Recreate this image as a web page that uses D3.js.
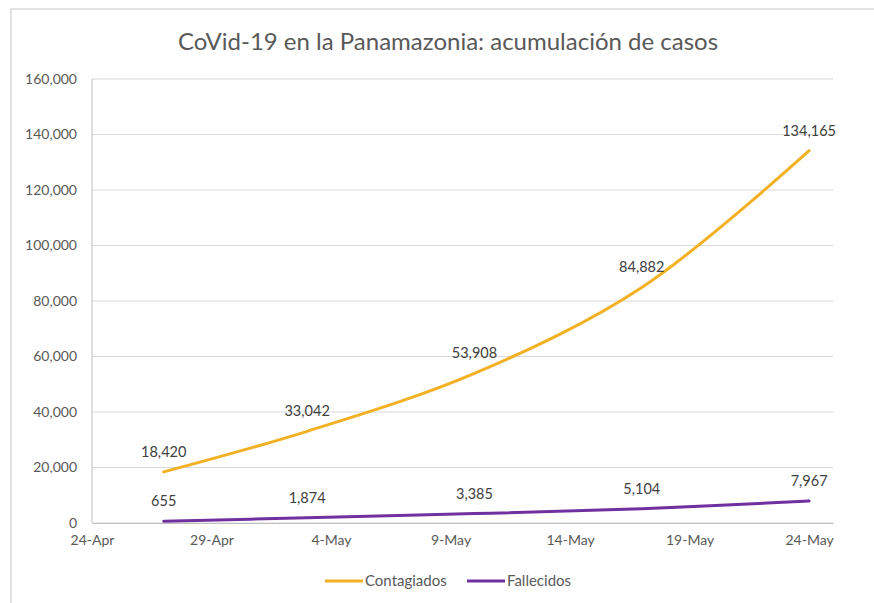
<!DOCTYPE html>
<html>
<head>
<meta charset="utf-8">
<script src="https://cdn.jsdelivr.net/npm/d3@7"></script>
<style>
  body { margin: 0; background: #fff; }
  text { font-family: Lato, "Open Sans", sans-serif; }
</style>
</head>
<body>
<div id="chart"></div>
<script>
// data
const dates = ["2020-04-27", "2020-05-03", "2020-05-10", "2020-05-17", "2020-05-24"];
const contagiados = [18420, 33042, 53908, 84882, 134165];
const fallecidos = [655, 1874, 3385, 5104, 7967];
const seriesNames = ["Contagiados", "Fallecidos"];
const seriesColors = ["#F2B124", "#7030A0"];
const yTicks = [0, 20000, 40000, 60000, 80000, 100000, 120000, 140000, 160000];
const xTickDates = ["2020-04-24", "2020-04-29", "2020-05-04", "2020-05-09", "2020-05-14", "2020-05-19", "2020-05-24"];

const W = 874, H = 603;
const margin = { top: 79, right: 41, bottom: 80, left: 92 };
const parse = d3.timeParse("%Y-%m-%d");

const svg = d3.select("#chart").append("svg").attr("width", W).attr("height", H);

// outer frame
svg.append("rect")
  .attr("x", 11).attr("y", 9).attr("width", 880).attr("height", 620)
  .attr("fill", "#fff").attr("stroke", "#d9d9d9").attr("stroke-width", 1.5);

const x = d3.scaleTime()
  .domain([parse("2020-04-24"), parse("2020-05-25")])
  .range([margin.left, W - margin.right]);

const y = d3.scaleLinear()
  .domain([0, 160000])
  .range([H - margin.bottom, margin.top]);

// gridlines
svg.append("g")
  .selectAll("line")
  .data(yTicks)
  .join("line")
  .attr("x1", margin.left).attr("x2", W - margin.right)
  .attr("y1", d => y(d)).attr("y2", d => y(d))
  .attr("stroke", "#d9d9d9").attr("stroke-width", 1);

// left axis line
svg.append("line")
  .attr("x1", margin.left).attr("x2", margin.left)
  .attr("y1", y(160000)).attr("y2", y(0))
  .attr("stroke", "#bfbfbf");

const fmt = d3.format(",");

const yAxis = d3.axisLeft(y).tickValues(yTicks).tickFormat(fmt).tickSize(0).tickPadding(15);
svg.append("g")
  .attr("transform", `translate(${margin.left},0)`)
  .call(yAxis)
  .call(g => g.select(".domain").remove())
  .selectAll("text")
  .attr("fill", "#595959").style("font-size", "14px");

const xAxis = d3.axisBottom(x)
  .tickValues(xTickDates.map(parse))
  .tickFormat(d3.timeFormat("%-d-%b"))
  .tickSize(0).tickPadding(12);
svg.append("g")
  .attr("transform", `translate(0,${y(0)})`)
  .call(xAxis)
  .call(g => g.select(".domain").attr("stroke", "#bfbfbf"))
  .selectAll("text")
  .attr("fill", "#595959").style("font-size", "14px");

const series = [contagiados, fallecidos];
const line = d3.line()
  .x((d, i) => x(parse(dates[i])))
  .y(d => y(d))
  .curve(d3.curveCatmullRom.alpha(0.5));

series.forEach((vals, s) => {
  svg.append("path")
    .datum(vals)
    .attr("fill", "none")
    .attr("stroke", seriesColors[s])
    .attr("stroke-width", 3)
    .attr("stroke-linecap", "round")
    .attr("d", line);

  svg.append("g")
    .selectAll("text")
    .data(vals)
    .join("text")
    .attr("x", (d, i) => x(parse(dates[i])))
    .attr("y", d => y(d) - 15)
    .attr("text-anchor", "middle")
    .attr("fill", "#404040")
    .style("font-size", "14.5px")
    .text(d => fmt(d));
});

// title
svg.append("text")
  .attr("x", 448).attr("y", 50)
  .attr("text-anchor", "middle")
  .attr("fill", "#595959")
  .style("font-size", "24px")
  .text("CoVid-19 en la Panamazonia: acumulación de casos");

// legend
const legendX = [325, 467];
seriesNames.forEach((name, s) => {
  const g = svg.append("g").attr("transform", `translate(${legendX[s]},581)`);
  g.append("line").attr("x1", 0).attr("x2", 38)
    .attr("stroke", seriesColors[s]).attr("stroke-width", 3);
  g.append("text").attr("x", 40).attr("y", 5)
    .attr("fill", "#595959").style("font-size", "15px")
    .text(name);
});
</script>
</body>
</html>
